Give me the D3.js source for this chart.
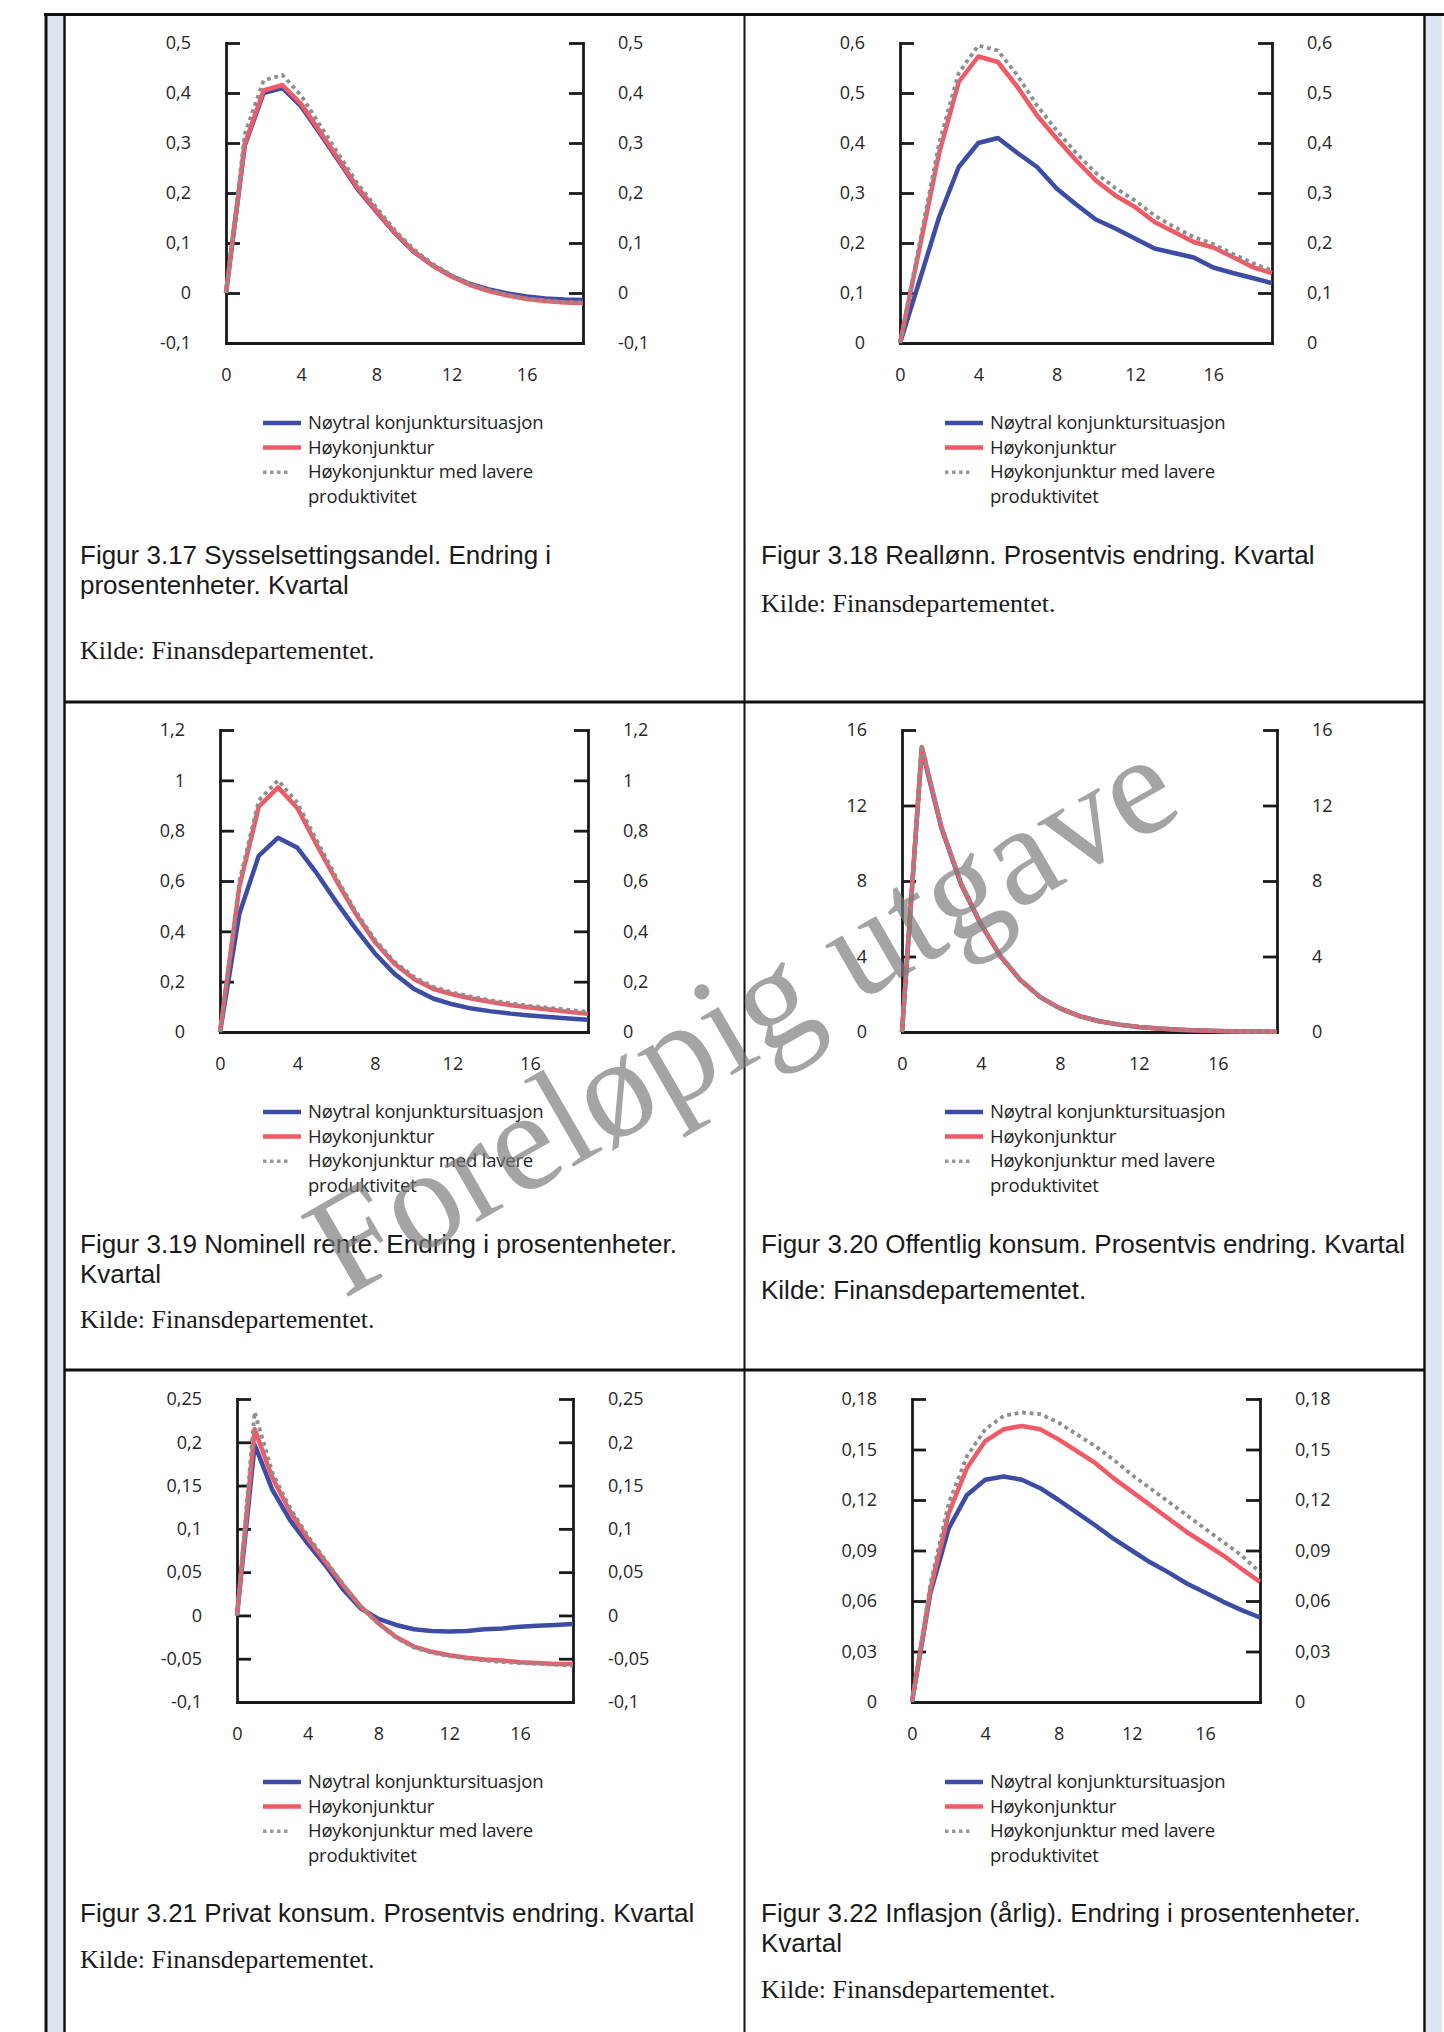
<!DOCTYPE html>
<html>
<head>
<meta charset="utf-8">
<script src="https://cdn.jsdelivr.net/npm/d3@7"></script>
<style>
  body { margin: 0; background: #fff; }
  svg { display: block; }
</style>
</head>
<body>
<div id="page"></div>
<script>
// ---- data ----
const quarters = [0,1,2,3,4,5,6,7,8,9,10,11,12,13,14,15,16,17,18,19];
const xTicks = [0, 4, 8, 12, 16];
const seriesNames = ["Nøytral konjunktursituasjon", "Høykonjunktur", "Høykonjunktur med lavere", "produktivitet"];

// Figur 3.17 Sysselsettingsandel
const syssTicks   = [-0.1, 0, 0.1, 0.2, 0.3, 0.4, 0.5];
const syssNoytral = [0, 0.295, 0.40, 0.41, 0.373, 0.319, 0.264, 0.208, 0.163, 0.119, 0.082, 0.055, 0.034, 0.018, 0.007, -0.001, -0.007, -0.011, -0.013, -0.014];
const syssHoy     = [0, 0.298, 0.405, 0.416, 0.378, 0.323, 0.267, 0.211, 0.165, 0.12, 0.083, 0.055, 0.033, 0.016, 0.004, -0.005, -0.012, -0.016, -0.019, -0.02];
const syssHoyLav  = [0, 0.318, 0.425, 0.436, 0.395, 0.336, 0.277, 0.219, 0.171, 0.125, 0.087, 0.058, 0.036, 0.018, 0.006, -0.004, -0.011, -0.015, -0.018, -0.019];

// Figur 3.18 Reallønn
const lonnTicks   = [0, 0.1, 0.2, 0.3, 0.4, 0.5, 0.6];
const lonnNoytral = [0, 0.125, 0.252, 0.352, 0.40, 0.41, 0.38, 0.352, 0.309, 0.277, 0.247, 0.229, 0.209, 0.189, 0.18, 0.171, 0.151, 0.14, 0.13, 0.12];
const lonnHoy     = [0, 0.19, 0.38, 0.522, 0.573, 0.562, 0.512, 0.455, 0.409, 0.365, 0.325, 0.295, 0.272, 0.242, 0.222, 0.202, 0.191, 0.172, 0.152, 0.14];
const lonnHoyLav  = [0, 0.2, 0.40, 0.54, 0.595, 0.585, 0.535, 0.475, 0.425, 0.38, 0.34, 0.31, 0.285, 0.255, 0.232, 0.212, 0.198, 0.178, 0.16, 0.145];

// Figur 3.19 Nominell rente
const renteTicks   = [0, 0.2, 0.4, 0.6, 0.8, 1, 1.2];
const renteNoytral = [0, 0.47, 0.70, 0.772, 0.732, 0.63, 0.517, 0.411, 0.312, 0.232, 0.172, 0.133, 0.11, 0.093, 0.082, 0.073, 0.066, 0.06, 0.054, 0.049];
const renteHoy     = [0, 0.577, 0.895, 0.972, 0.889, 0.743, 0.603, 0.471, 0.358, 0.272, 0.212, 0.172, 0.15, 0.133, 0.119, 0.107, 0.097, 0.089, 0.08, 0.072];
const renteHoyLav  = [0, 0.60, 0.92, 1.0, 0.91, 0.76, 0.615, 0.48, 0.367, 0.28, 0.22, 0.18, 0.157, 0.14, 0.126, 0.114, 0.104, 0.096, 0.088, 0.08];

// Figur 3.20 Offentlig konsum
const offTicks   = [0, 4, 8, 12, 16];
const offNoytral = [0, 15.0, 10.8, 7.8, 5.7, 4.0, 2.75, 1.85, 1.25, 0.84, 0.57, 0.39, 0.27, 0.18, 0.12, 0.08, 0.05, 0.03, 0.02, 0.01];
const offHoy     = [0, 15.1, 10.85, 7.85, 5.72, 4.0, 2.76, 1.86, 1.25, 0.84, 0.57, 0.39, 0.27, 0.18, 0.12, 0.08, 0.05, 0.03, 0.02, 0.01];
const offHoyLav  = [0, 15.2, 10.9, 7.9, 5.75, 4.02, 2.77, 1.87, 1.26, 0.85, 0.58, 0.4, 0.27, 0.18, 0.12, 0.08, 0.05, 0.03, 0.02, 0.01];

// Figur 3.21 Privat konsum
const privTicks   = [-0.1, -0.05, 0, 0.05, 0.1, 0.15, 0.2, 0.25];
const privNoytral = [0, 0.197, 0.145, 0.110, 0.083, 0.058, 0.03, 0.008, -0.004, -0.011, -0.016, -0.018, -0.0185, -0.018, -0.016, -0.015, -0.013, -0.012, -0.011, -0.01];
const privHoy     = [0, 0.215, 0.159, 0.12, 0.089, 0.062, 0.035, 0.01, -0.009, -0.025, -0.036, -0.042, -0.046, -0.049, -0.051, -0.052, -0.054, -0.055, -0.056, -0.056];
const privHoyLav  = [0, 0.235, 0.165, 0.124, 0.092, 0.064, 0.036, 0.01, -0.01, -0.026, -0.037, -0.043, -0.047, -0.05, -0.052, -0.054, -0.055, -0.056, -0.057, -0.058];

// Figur 3.22 Inflasjon (årlig)
const inflTicks   = [0, 0.03, 0.06, 0.09, 0.12, 0.15, 0.18];
const inflNoytral = [0, 0.0645, 0.103, 0.123, 0.132, 0.134, 0.132, 0.127, 0.12, 0.1125, 0.105, 0.097, 0.09, 0.083, 0.077, 0.0704, 0.065, 0.0595, 0.0546, 0.0502];
const inflHoy     = [0, 0.0665, 0.112, 0.139, 0.155, 0.162, 0.164, 0.162, 0.156, 0.149, 0.142, 0.133, 0.125, 0.117, 0.109, 0.101, 0.094, 0.087, 0.079, 0.0714];
const inflHoyLav  = [0, 0.07, 0.118, 0.146, 0.162, 0.17, 0.172, 0.171, 0.166, 0.159, 0.152, 0.144, 0.135, 0.127, 0.119, 0.111, 0.103, 0.095, 0.087, 0.077];

const kilde = "Kilde: Finansdepartementet.";

const panels = [
  {ticks: syssTicks,  series: [syssNoytral, syssHoy, syssHoyLav],
   caption: ["Figur 3.17 Sysselsettingsandel. Endring i", "prosentenheter. Kvartal"], kildeSerif: true},
  {ticks: lonnTicks,  series: [lonnNoytral, lonnHoy, lonnHoyLav],
   caption: ["Figur 3.18 Reallønn. Prosentvis endring. Kvartal"], kildeSerif: true},
  {ticks: renteTicks, series: [renteNoytral, renteHoy, renteHoyLav],
   caption: ["Figur 3.19 Nominell rente. Endring i prosentenheter.", "Kvartal"], kildeSerif: true},
  {ticks: offTicks,   series: [offNoytral, offHoy, offHoyLav],
   caption: ["Figur 3.20 Offentlig konsum. Prosentvis endring. Kvartal"], kildeSerif: false},
  {ticks: privTicks,  series: [privNoytral, privHoy, privHoyLav],
   caption: ["Figur 3.21 Privat konsum. Prosentvis endring. Kvartal"], kildeSerif: true},
  {ticks: inflTicks,  series: [inflNoytral, inflHoy, inflHoyLav],
   caption: ["Figur 3.22 Inflasjon (årlig). Endring i prosentenheter.", "Kvartal"], kildeSerif: true}
];

// ---- layout (pixels) ----
const W = 1444, H = 2032;
const layout = [
  {left: 226, right: 583,  top: 43,   bottom: 343,  legendX: 263, capX: 80,  capY: 555,  kildeY: 651},
  {left: 900, right: 1272, top: 43,   bottom: 343,  legendX: 945, capX: 761, capY: 555,  kildeY: 604},
  {left: 220, right: 588,  top: 730,  bottom: 1032, legendX: 263, capX: 80,  capY: 1244, kildeY: 1320},
  {left: 902, right: 1277, top: 730,  bottom: 1032, legendX: 945, capX: 761, capY: 1244, kildeY: 1291},
  {left: 237, right: 573,  top: 1399, bottom: 1702, legendX: 263, capX: 80,  capY: 1913, kildeY: 1960},
  {left: 912, right: 1260, top: 1399, bottom: 1702, legendX: 945, capX: 761, capY: 1913, kildeY: 1990}
];
const colors = ["#3d4da6", "#f05a66", "#8e8e8e"];

const nb = d3.formatLocale({decimal: ",", thousands: " ", grouping: [3], currency: ["", " kr"], minus: "-"});
const fmt = nb.format("~g");

const svg = d3.select("#page").append("svg")
    .attr("width", W)
    .attr("height", H);

svg.append("rect").attr("width", W).attr("height", H).attr("fill", "#fff");

//====== page frame ======
svg.append("rect").attr("x", 47).attr("y", 15).attr("width", 16).attr("height", H - 15).attr("fill", "#dce5f1");
svg.append("rect").attr("x", 1426).attr("y", 16).attr("width", 16).attr("height", H - 16).attr("fill", "#dce5f1");

const frame = svg.append("g").attr("stroke", "#111").attr("fill", "none");
frame.append("line").attr("x1", 46).attr("x2", 46).attr("y1", 13).attr("y2", H).attr("stroke-width", 3);
frame.append("line").attr("x1", 44).attr("x2", W).attr("y1", 14.5).attr("y2", 14.5).attr("stroke-width", 3);
frame.append("line").attr("x1", 64.5).attr("x2", 64.5).attr("y1", 14).attr("y2", H).attr("stroke-width", 2.5);
frame.append("line").attr("x1", 744.5).attr("x2", 744.5).attr("y1", 14).attr("y2", H).attr("stroke-width", 2);
frame.append("line").attr("x1", 1424.5).attr("x2", 1424.5).attr("y1", 14).attr("y2", H).attr("stroke-width", 2.5);
[702, 1370].forEach(yy => {
  frame.append("line").attr("x1", 64).attr("x2", 1425).attr("y1", yy).attr("y2", yy).attr("stroke-width", 3);
});

//====== panels ======
panels.forEach((p, i) => drawPanel(p, layout[i]));

function styleAxis(g) {
  g.attr("font-size", null).attr("font-family", null);
  g.select(".domain").attr("stroke", "#1a1a1a").attr("stroke-width", 2.8).attr("stroke-linecap", "square");
  g.selectAll(".tick line").attr("stroke", "#1a1a1a").attr("stroke-width", 2.8);
  g.selectAll(".tick text")
    .style("font-family", "'Open Sans', 'Noto Sans', sans-serif")
    .style("font-size", "18px")
    .attr("fill", "#262626");
}

function drawPanel(p, L) {
  const g = svg.append("g");

  const x = d3.scaleLinear()
      .domain([quarters[0], quarters[quarters.length - 1]])
      .range([L.left, L.right]);
  const y = d3.scaleLinear()
      .domain(d3.extent(p.ticks))
      .range([L.bottom, L.top]);

  // Axes
  g.append("g")
    .attr("transform", "translate(" + L.left + ",0)")
    .call(d3.axisLeft(y).tickValues(p.ticks).tickFormat(fmt)
            .tickSizeInner(-14).tickSizeOuter(0).tickPadding(35))
    .call(styleAxis);

  g.append("g")
    .attr("transform", "translate(" + L.right + ",0)")
    .call(d3.axisRight(y).tickValues(p.ticks).tickFormat(fmt)
            .tickSizeInner(-14).tickSizeOuter(0).tickPadding(35))
    .call(styleAxis);

  g.append("g")
    .attr("transform", "translate(0," + L.bottom + ")")
    .call(d3.axisBottom(x).tickValues(xTicks).tickFormat(d3.format("d"))
            .tickSize(0).tickPadding(25))
    .call(styleAxis);

  // Lines
  const line = d3.line()
      .x((d, i) => x(quarters[i]))
      .y(d => y(d));

  p.series.forEach((s, k) => {
    g.append("path")
      .attr("d", line(s))
      .attr("fill", "none")
      .attr("stroke", colors[k])
      .attr("stroke-width", k === 2 ? 3.8 : 4.5)
      .attr("stroke-dasharray", k === 2 ? "3.8,3.8" : null)
      .attr("stroke-linejoin", "round");
  });

  // Legend
  const lg = g.append("g").attr("transform", "translate(" + L.legendX + "," + (L.bottom + 80) + ")");
  const rowH = 24.6;
  [0, 1, 2].forEach(k => {
    lg.append("line")
      .attr("x1", 0).attr("x2", k === 2 ? 25 : 38)
      .attr("y1", k * rowH).attr("y2", k * rowH)
      .attr("stroke", k === 2 ? "#999" : colors[k])
      .attr("stroke-width", k === 2 ? 3.5 : 4.5)
      .attr("stroke-dasharray", k === 2 ? "3.5,3.5" : null);
  });
  seriesNames.forEach((name, k) => {
    lg.append("text")
      .attr("x", 45)
      .attr("y", k * rowH + 6)
      .style("font-family", "'Open Sans', 'Noto Sans', sans-serif")
      .style("font-size", "18.5px")
      .style("letter-spacing", "-0.2px")
      .attr("fill", "#1f1f1f")
      .text(name);
  });

  // Caption
  p.caption.forEach((t, k) => {
    g.append("text")
      .attr("x", L.capX)
      .attr("y", L.capY + k * 29.5 + 9)
      .style("font-family", "'Liberation Sans', Arial, sans-serif")
      .style("font-size", "26px")
      .attr("fill", "#1a1a1a")
      .text(t);
  });

  g.append("text")
    .attr("x", L.capX)
    .attr("y", L.kildeY + 8)
    .style("font-family", p.kildeSerif ? "'Liberation Serif', 'Times New Roman', serif" : "'Liberation Sans', Arial, sans-serif")
    .style("font-size", "26px")
    .attr("fill", "#1a1a1a")
    .text(kilde);
}

//====== watermark ======
svg.append("text")
  .attr("transform", "translate(765,1056) rotate(-30)")
  .attr("text-anchor", "middle")
  .style("font-family", "'Liberation Serif', 'Times New Roman', serif")
  .style("font-size", "143px")
  .attr("fill", "#7a7a7a")
  .attr("opacity", 0.68)
  .text("Foreløpig utgave");
</script>
</body>
</html>
